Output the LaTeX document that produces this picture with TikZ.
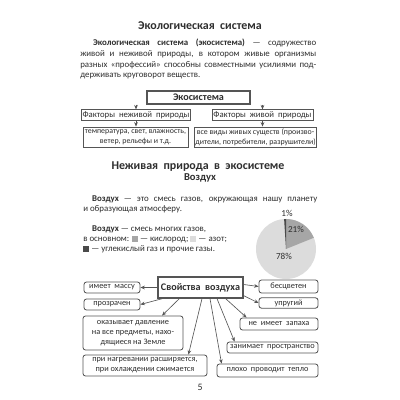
\documentclass[tikz,border=0pt]{standalone}
\usepackage{fontspec}
\setmainfont{Carlito}
\usepackage{xcolor}
\definecolor{cInk}{HTML}{2E2E2E}
\definecolor{cLine}{HTML}{555555}
\definecolor{cO2}{HTML}{A6A6A6}
\definecolor{cN2}{HTML}{DCDCDC}
\definecolor{cCO2}{HTML}{4A4A4A}
\usepackage{tikz}
\usetikzlibrary{positioning,arrows.meta,calc}
\tikzset{
  node-title/.style={font=\fontsize{8.5}{10}\selectfont\bfseries,text=cInk,inner sep=0pt},
  node-text/.style={font=\fontsize{6.3}{7.6}\selectfont,text=cInk,inner sep=0pt},
  node-box/.style={draw=cLine,line width=0.6pt,inner sep=0.5pt,align=center,
    text=cInk,font=\fontsize{5.6}{7}\selectfont},
  node-main/.style={node-box,line width=0.9pt,font=\fontsize{7.2}{9}\selectfont\bfseries},
  node-prop/.style={node-box,rounded corners=1.8pt,font=\fontsize{5.9}{7.2}\selectfont},
  node-pct/.style={font=\fontsize{6.5}{7}\selectfont,text=cInk,inner sep=0pt},
  arrow/.style={-{Stealth[length=1.1mm,width=0.9mm]},line width=0.45pt,draw=cLine},
}
\newcommand{\gassq}[1]{\textcolor{#1}{\rule[-0.1mm]{1.5mm}{1.5mm}}}

\begin{document}
\begin{tikzpicture}[x=0.25mm,y=0.25mm]
  \useasboundingbox[fill=white] (0,0) rectangle (400,400);

  % экосистема
  \node[node-title] (ttl1) at (200,374) {Экологическая\ \ система};
  \node[node-text,anchor=north west,text width=59mm,align=justify] (def) at (80,361)
    {\hspace*{3.2mm}\textbf{Экологическая система (экосистема)} — содружество\linebreak
     живой и неживой природы, в котором живые организмы\linebreak
     разных «профессий» способны совместными усилиями под-\linebreak
     держивать круговорот веществ.};

  \node[node-main,minimum width=25.75mm,minimum height=3.2mm] (eco) at (198.5,302.5) {Экосистема};
  \node[node-box,font=\fontsize{6.2}{7.5}\selectfont,minimum width=26.5mm,minimum height=2.6mm]
    (fa1) at (136,285) {Факторы\ \ неживой\ \ природы};
  \node[node-box,font=\fontsize{6.2}{7.5}\selectfont,minimum width=25.25mm,minimum height=2.6mm]
    (fa2) at (262.5,285) {Факторы\ \ живой\ \ природы};
  \node[node-box,minimum width=26.25mm,minimum height=5mm] (ex1) at (135.5,263)
    {температура, свет, влажность,\\ветер, рельефы и т.д.};
  \node[node-box,minimum width=29.75mm,minimum height=5mm] (ex2) at (255.5,263)
    {все виды живых существ (произво-\\дители, потребители, разрушители)};
  \draw[arrow] (eco.south -| fa1.north) -- (fa1.north);
  \draw[arrow] (eco.south -| fa2.north) -- (fa2.north);
  \draw[arrow] (fa1.south) -- (fa1.south |- ex1.north);
  \draw[arrow] (fa2.south) -- (fa2.south |- ex2.north);

  % воздух
  \node[node-title] (ttl2) at (198,233) {Неживая\ \ природа\ \ в\ \ экосистеме};
  \node[node-title,font=\fontsize{7.5}{9}\selectfont\bfseries] (ttl3) at (200,222) {Воздух};
  \node[node-text,anchor=north west,text width=58.5mm,align=justify] (air1) at (83,205)
    {\hspace*{2.2mm}\textbf{Воздух} — это смесь газов, окружающая нашу планету\linebreak
     и образующая атмосферу.};
  \node[node-text,anchor=north west,align=left,font=\fontsize{6.3}{7.4}\selectfont] (air2) at (83,175)
    {\hspace*{2.2mm}\textbf{Воздух} — смесь многих газов,\\
     в основном: \gassq{cO2} — кислород; \gassq{cN2} — азот;\\
     \gassq{cCO2} — углекислый газ и прочие газы.};

  % диаграмма
  \coordinate (pc) at (286,151);
  \fill[cN2] (pc) circle (30);
  \fill[cO2] (pc) -- ++(90:30) arc[start angle=90,end angle=22,radius=30] -- cycle;
  \fill[cCO2] (pc) -- ++(90:30) arc[start angle=90,end angle=93.6,radius=30] -- cycle;
  \node[node-pct] (p1)  at (287,187) {1\%};
  \node[node-pct] (p21) at (296,171) {21\%};
  \node[node-pct] (p78) at (284,144) {78\%};

  % свойства
  \node[node-main,minimum width=21.25mm,minimum height=5.25mm] (prop) at (200.5,112.5)
    {Свойства\ \ воздуха};
  \node[node-prop,minimum width=14mm,minimum height=2.75mm] (m1) at (112,112.5) {имеет\ \ массу};
  \node[node-prop,minimum width=14mm,minimum height=2.75mm] (m2) at (112,95.5) {прозрачен};
  \node[node-prop,minimum width=25mm,minimum height=8.5mm] (m3) at (133,67)
    {оказывает давление\\на все предметы, нахо-\\дящиеся на Земле};
  \node[node-prop,minimum width=31mm,minimum height=5.25mm] (m4) at (145,34.5)
    {при нагревании расширяется,\\при охлаждении сжимается};
  \node[node-prop,minimum width=25.25mm,minimum height=3.25mm] (m5) at (267.5,29.5)
    {плохо\ \ проводит\ \ тепло};
  \node[node-prop,minimum width=22.75mm,minimum height=2.75mm] (m6) at (272.5,52.5)
    {занимает\ \ пространство};
  \node[node-prop,minimum width=19.5mm,minimum height=3mm] (m7) at (279,76) {не\ \ имеет\ \ запаха};
  \node[node-prop,minimum width=14.75mm,minimum height=2.6mm] (m8) at (288.5,97) {упругий};
  \node[node-prop,minimum width=14.75mm,minimum height=3.25mm] (m9) at (288.5,113.5) {бесцветен};

  \draw[arrow] (prop.west) -- (m1.east);
  \draw[arrow] ($(prop.south west)+(5,0)$) -- (m2.east);
  \draw[arrow] ($(prop.south west)+(22,0)$) -- ($(m3.north)+(29,0)$);
  \draw[arrow] ($(prop.south)+(1.5,0)$) -- ($(m4.north east)+(-19,0)$);
  \draw[arrow] ($(prop.south)+(9.5,0)$) -- ($(m5.north west)+(5,0)$);
  \draw[arrow] ($(prop.south)+(16.5,0)$) -- ($(m6.north west)+(8,0)$);
  \draw[arrow] ($(prop.south east)+(-18,0)$) -- ($(m7.north west)+(7,0)$);
  \draw[arrow] ($(prop.south east)+(0,3)$) -- (m8.west);
  \draw[arrow] ($(prop.east)+(0,3)$) -- (m9.west);

  \node[node-text,font=\fontsize{7}{8}\selectfont] (pg) at (200,13) {5};
\end{tikzpicture}
\end{document}
